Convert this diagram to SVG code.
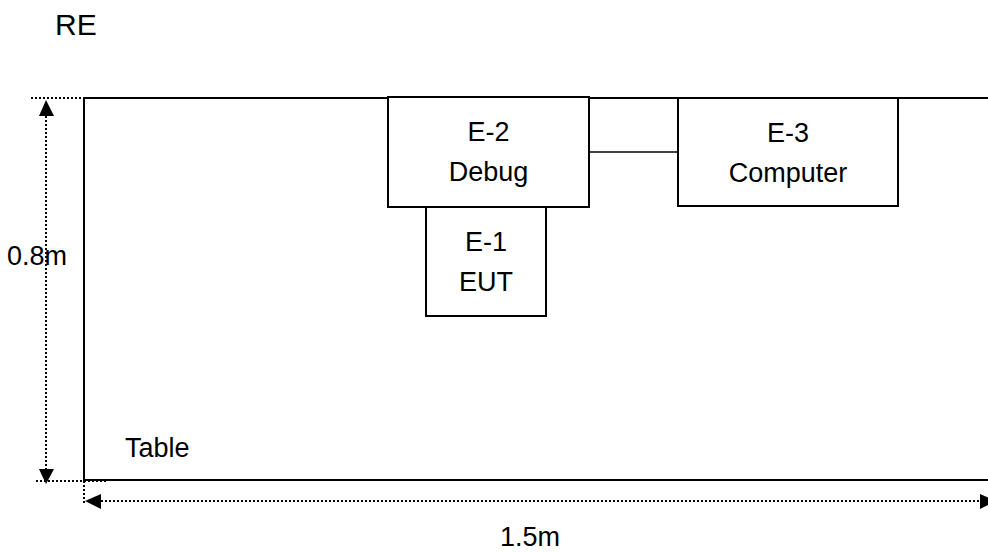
<svg xmlns="http://www.w3.org/2000/svg" width="988" height="553" viewBox="0 0 988 553">
<style>
text{font-family:"Liberation Sans",Arial,sans-serif;font-size:27px;fill:#000}
.box{fill:#fff;stroke:#000;stroke-width:2}
.line{stroke:#000;stroke-width:2;fill:none}
.thin{stroke:#000;stroke-width:1.3;fill:none}
.dot{stroke:#000;stroke-width:2;stroke-dasharray:2 2;fill:none}
.c{text-anchor:middle}
</style>
<rect width="988" height="553" fill="#fff"/>
<text x="55" y="35" style="font-size:30px">RE</text>
<g id="table">
<path class="line" d="M990,98 H84 V480 H990"/>
<text x="125" y="457">Table</text>
</g>
<g id="dimensions">
<path class="dot" d="M31,98 H84"/>
<path class="dot" d="M36,481 H107"/>
<path class="dot" d="M84,481 V505"/>
<path d="M46,100 L39,116 L54,116 Z" fill="#000"/>
<path d="M46,484 L39,469 L54,469 Z" fill="#000"/>
<path class="dot" d="M46,116 V469"/>
<path d="M85,501 L101,494 L101,509 Z" fill="#000"/>
<path d="M996,501 L980,494 L980,509 Z" fill="#000"/>
<path class="dot" d="M101,501 H980"/>
<text x="7" y="265">0.8m</text>
<text x="500" y="546">1.5m</text>
</g>
<g id="connectors">
<path class="thin" d="M589,152 H678"/>
</g>
<g id="e2">
<rect class="box" x="388" y="97" width="201" height="110"/>
<text class="c" x="488.5" y="141">E-2</text>
<text class="c" x="488.5" y="181">Debug</text>
</g>
<g id="e1">
<rect class="box" x="426" y="207" width="120" height="109"/>
<text class="c" x="486" y="251">E-1</text>
<text class="c" x="486" y="291">EUT</text>
</g>
<g id="e3">
<rect class="box" x="678" y="98" width="220" height="108"/>
<text class="c" x="788" y="142">E-3</text>
<text class="c" x="788" y="182">Computer</text>
</g>
</svg>
